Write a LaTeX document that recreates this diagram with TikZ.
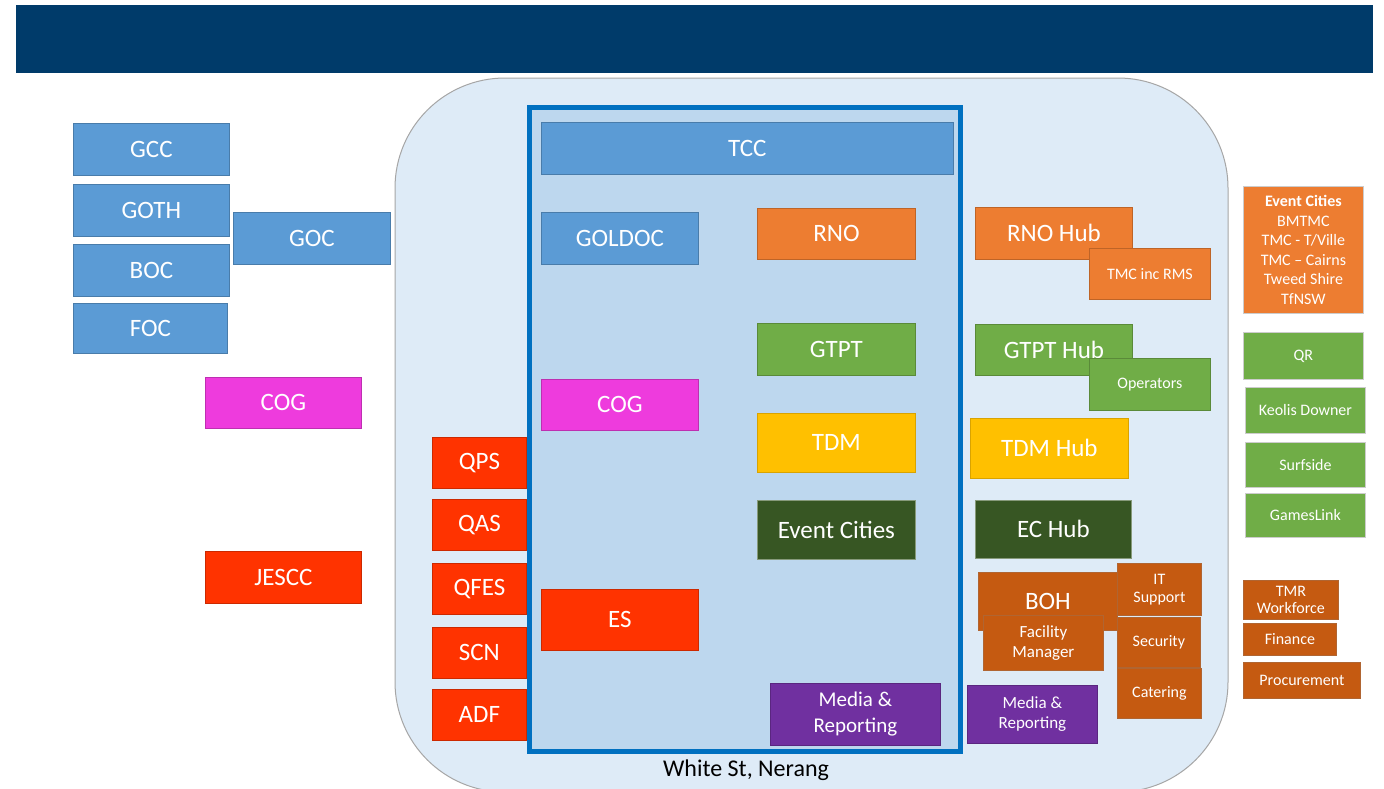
\documentclass[tikz,border=0pt]{standalone}
\usepackage{fontspec}
\setmainfont{Carlito}
\definecolor{hdr}{HTML}{003B6A}
\definecolor{outerfill}{HTML}{DEEBF7}
\definecolor{innerfill}{HTML}{BDD7EE}
\definecolor{frameblue}{HTML}{0070C0}
\definecolor{cblue}{HTML}{5B9BD5}
\definecolor{cmag}{HTML}{EE3BDD}
\definecolor{cred}{HTML}{FF3300}
\definecolor{corange}{HTML}{ED7D31}
\definecolor{cgreen}{HTML}{70AD47}
\definecolor{cyellow}{HTML}{FFC000}
\definecolor{cdkgreen}{HTML}{375623}
\definecolor{cpurple}{HTML}{7030A0}
\definecolor{cbrown}{HTML}{C55A11}
\newcommand\bx[7]{\node[bx,#6,anchor=north west,minimum width={(#4-#2)*1pt},minimum height={(#5-#3)*1pt}] (#1) at (#2,#3) {#7};}
\tikzset{
  bx/.style={rectangle,inner sep=0pt,align=center,text=white,line width=0.8pt,font=\fontsize{25}{27}\selectfont},
  sm/.style={font=\fontsize{17}{20}\selectfont},
  xs/.style={font=\fontsize{16}{18}\selectfont},
  blue/.style={fill=cblue,draw=cblue!80!black},
  mag/.style={fill=cmag,draw=cmag!80!black},
  red/.style={fill=cred,draw=cred!80!black},
  org/.style={fill=corange,draw=corange!80!black},
  grn/.style={fill=cgreen,draw=cgreen!80!black},
  yel/.style={fill=cyellow,draw=cyellow!85!black},
  dkg/.style={fill=cdkgreen,draw=cdkgreen!60!white},
  pur/.style={fill=cpurple,draw=cpurple!80!black},
  brn/.style={fill=cbrown,draw=cbrown!70!gray},
}
\begin{document}
\begin{tikzpicture}[x=1pt,y=-1pt]
\useasboundingbox[fill=white] (0,0) rectangle (1384,788);
% header band
\fill[hdr] (16,5) rectangle (1373,73);
% outer rounded venue
\draw[fill=outerfill,draw=gray!70,line width=1pt,rounded corners=110pt] (395,78) rectangle (1228,792);
% inner TCC frame
\draw[fill=innerfill,draw=frameblue,line width=5pt] (529,107) rectangle (960,751);
\node[font=\fontsize{24}{26}\selectfont,text=black] (venue) at (746,770) {White St, Nerang};
% left column
\bx{gcc}{73}{123}{229}{175}{blue}{GCC}
\bx{goth}{73}{184}{229}{236}{blue}{GOTH}
\bx{boc}{73}{244}{229}{296}{blue}{BOC}
\bx{foc}{73}{303}{227}{353}{blue}{FOC}
\bx{goc}{233}{212}{390}{264}{blue}{GOC}
\bx{cogl}{205}{377}{361}{428}{mag}{COG}
\bx{jescc}{205}{551}{361}{603}{red}{JESCC}
% emergency services
\bx{qps}{432}{437}{526}{488}{red}{QPS}
\bx{qas}{432}{499}{526}{550}{red}{QAS}
\bx{qfes}{432}{563}{526}{614}{red}{QFES}
\bx{scn}{432}{627}{526}{678}{red}{SCN}
\bx{adf}{432}{689}{526}{740}{red}{ADF}
% inside TCC
\bx{tcc}{541}{122}{953}{174}{blue}{TCC}
\bx{goldoc}{541}{212}{698}{264}{blue}{GOLDOC}
\bx{cog}{541}{379}{698}{430}{mag}{COG}
\bx{es}{541}{589}{698}{650}{red}{ES}
\bx{rno}{757}{208}{915}{259}{org}{RNO}
\bx{gtpt}{757}{323}{915}{375}{grn}{GTPT}
\bx{tdm}{757}{413}{915}{472}{yel}{TDM}
\bx{ec}{757}{500}{915}{559}{dkg}{Event Cities}
\bx{media}{770}{683}{940}{745}{pur,font=\fontsize{21}{26}\selectfont}{Media \&\\Reporting}
% hubs
\bx{rnohub}{975}{207}{1132}{259}{org}{RNO Hub}
\bx{tmc}{1089}{248}{1210}{299}{org,xs}{TMC inc RMS}
\bx{gtpthub}{975}{324}{1132}{375}{grn}{GTPT Hub}
\bx{oper}{1089}{358}{1210}{410}{grn,xs}{Operators}
\bx{tdmhub}{970}{418}{1128}{478}{yel}{TDM Hub}
\bx{echub}{975}{500}{1131}{558}{dkg}{EC Hub}
\bx{boh}{978}{572}{1117}{630}{brn}{BOH}
\bx{fac}{983}{615}{1103}{670}{brn,sm}{Facility\\Manager}
\bx{it}{1117}{563}{1201}{615}{brn,xs}{IT\\Support}
\bx{sec}{1117}{617}{1200}{667}{brn,xs}{Security}
\bx{cat}{1117}{668}{1201}{718}{brn,xs}{Catering}
\bx{media2}{967}{685}{1097}{743}{pur,sm}{Media \&\\Reporting}
% far right
\bx{ecities}{1243}{186}{1363}{313}{org,draw=gray!40,font=\fontsize{16}{19.5}\selectfont}{\textbf{Event Cities}\\BMTMC\\TMC - T/Ville\\TMC – Cairns\\Tweed Shire\\TfNSW}
\bx{qr}{1243}{332}{1363}{379}{grn,draw=gray!40,xs}{QR}
\bx{keolis}{1245}{387}{1365}{433}{grn,draw=gray!40,xs}{Keolis Downer}
\bx{surf}{1245}{442}{1365}{487}{grn,draw=gray!40,xs}{Surfside}
\bx{games}{1245}{493}{1365}{537}{grn,draw=gray!40,xs}{GamesLink}
\bx{tmr}{1243}{580}{1338}{619}{brn,font=\fontsize{16}{17}\selectfont}{TMR\\Workforce}
\bx{fin}{1243}{623}{1336}{655}{brn,xs}{Finance}
\bx{proc}{1243}{662}{1360}{698}{brn,xs}{Procurement}
\end{tikzpicture}
\end{document}
